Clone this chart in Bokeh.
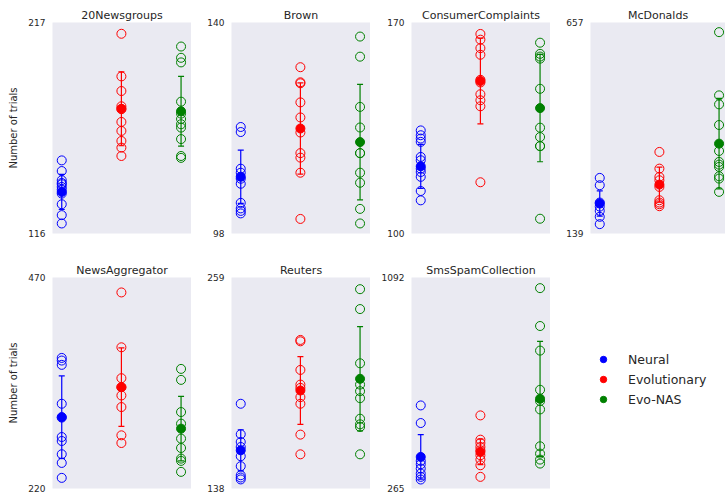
from bokeh.plotting import figure
from bokeh.layouts import column, row
from bokeh.models import (ColumnDataSource, Whisker, TeeHead, FixedTicker,
                          Legend, LegendItem, Range1d)
from bokeh.embed import file_html
from bokeh.resources import INLINE

# Datasets and their y-axis limits
datasets = ["20Newsgroups", "Brown", "ConsumerComplaints", "McDonalds",
            "NewsAggregator", "Reuters", "SmsSpamCollection"]
y_min = [116, 98, 100, 139, 220, 138, 265]
y_max = [217, 140, 170, 657, 470, 259, 1092]

methods = ["Neural", "Evolutionary", "Evo-NAS"]
colors = ["#0000ff", "#ff0000", "#008000"]

# Number of trials for each run
neural_runs = [
    [151.0, 145.9, 141.5, 140.2, 139.6, 138.3, 137.0, 135.1, 130.0, 124.8, 120.8],
    [119.2, 118.2, 110.9, 110.1, 108.9, 107.9, 104.1, 103.0, 102.5, 102.0],
    [134.2, 132.6, 131.5, 130.4, 125.4, 124.3, 121.5, 120.4, 118.8, 114.1, 111.0],
    [275.5, 257.5, 215.0, 205.0, 194.6, 180.0, 162.0],
    [374.7, 371.6, 366.5, 320.4, 304.0, 281.0, 276.3, 260.6, 250.3, 232.6],
    [186.6, 169.1, 164.7, 161.8, 156.5, 150.8, 145.6, 144.3, 143.2],
    [590.6, 521.6, 373.1, 360.0, 343.1, 323.6, 310.6, 300.2],
]
evolutionary_runs = [
    [211.6, 191.2, 184.2, 176.9, 175.5, 169.4, 165.1, 160.3, 157.1, 153.1],
    [131.1, 128.1, 127.9, 124.1, 121.1, 118.1, 114.0, 113.1, 110.1, 100.9],
    [166.2, 164.3, 161.5, 159.3, 151.0, 150.1, 146.2, 144.2, 142.2, 117.0],
    [339.2, 298.3, 277.9, 269.7, 253.4, 220.7, 215.0, 210.9, 206.0],
    [452.3, 387.3, 350.7, 340.0, 330.2, 316.5, 283.0, 273.9],
    [223.2, 222.4, 206.0, 197.6, 195.7, 190.4, 186.6, 168.9, 157.6],
    [551.5, 456.4, 443.4, 427.8, 414.8, 395.2, 378.3, 356.1, 310.6],
]
evonas_runs = [
    [205.5, 200.1, 197.9, 179.1, 173.4, 170.8, 168.3, 166.7, 161.2, 153.1, 152.2],
    [137.2, 133.2, 123.2, 119.1, 114.0, 114.0, 110.1, 108.1, 102.9, 100.0],
    [163.3, 159.6, 158.7, 158.0, 148.0, 135.1, 132.0, 129.0, 129.0, 104.9],
    [633.3, 478.1, 456.0, 405.4, 341.6, 314.7, 308.1, 302.4, 279.5, 273.8, 241.2],
    [361.7, 348.7, 310.6, 296.8, 279.1, 268.0, 255.4, 252.7, 239.7],
    [252.3, 240.9, 209.8, 197.6, 193.8, 189.8, 178.0, 174.8, 173.3, 157.6],
    [1050.3, 901.9, 805.5, 651.8, 607.5, 575.0, 430.4, 401.7, 378.3, 362.7],
]

# Mean and standard deviation per method
neural_mean = [135.9, 109.3, 122.3, 212.6, 304.6, 159.9, 388.7]
neural_std = [8.4, 5.3, 7.3, 31.0, 48.8, 11.8, 87.3]
evolutionary_mean = [175.7, 118.9, 150.6, 259.1, 340.1, 194.2, 408.2]
evolutionary_std = [17.7, 9.1, 14.2, 43.0, 46.5, 19.4, 50.0]
evonas_mean = [174.5, 116.2, 141.6, 359.6, 290.9, 200.9, 616.6]
evonas_std = [16.7, 11.5, 17.8, 111.0, 38.2, 29.9, 225.3]

runs = [neural_runs, evolutionary_runs, evonas_runs]
means = [neural_mean, evolutionary_mean, evonas_mean]
stds = [neural_std, evolutionary_std, evonas_std]

FONT = "DejaVu Sans"
TEXT = "#262626"
BG = "#eaeaf2"
FRAME_W, FRAME_H = 139, 211
X0, X1 = -0.155, 2.175
PX_PER_UNIT = FRAME_W / (X1 - X0)


def make_panel(i, left, top, bottom, frame_w=FRAME_W, ylabel=None):
    p = figure(frame_width=frame_w, frame_height=FRAME_H,
               x_range=Range1d(X0, X0 + frame_w / PX_PER_UNIT),
               y_range=Range1d(y_min[i], y_max[i]),
               x_axis_type=None, toolbar_location=None,
               output_backend="svg", title=datasets[i],
               min_border_left=left, min_border_right=0,
               min_border_top=top, min_border_bottom=bottom)
    p.background_fill_color = BG
    p.border_fill_color = "white"
    p.outline_line_color = None
    p.grid.visible = False
    p.title.text_font = FONT
    p.title.text_font_size = "11px"
    p.title.text_font_style = "normal"
    p.title.text_color = TEXT
    p.title.align = "center"
    p.title.standoff = 2

    ax = p.yaxis[0]
    ax.ticker = FixedTicker(ticks=[y_min[i], y_max[i]])
    ax.major_tick_in = 0
    ax.major_tick_out = 0
    ax.minor_tick_in = 0
    ax.minor_tick_out = 0
    ax.axis_line_color = None
    ax.major_label_standoff = 7
    ax.major_label_text_font = FONT
    ax.major_label_text_font_size = "9px"
    ax.major_label_text_color = TEXT
    if ylabel:
        ax.axis_label = ylabel
        ax.axis_label_text_font = FONT
        ax.axis_label_text_font_size = "10px"
        ax.axis_label_text_font_style = "normal"
        ax.axis_label_text_color = TEXT
        ax.axis_label_standoff = 6

    for k in range(3):
        c = colors[k]
        m = means[k][i]
        s = stds[k][i]
        err = ColumnDataSource(dict(x=[k], upper=[m + s], lower=[m - s]))
        p.add_layout(Whisker(source=err, base="x", upper="upper", lower="lower",
                             line_color=c, line_width=1.2,
                             upper_head=TeeHead(size=6, line_color=c, line_width=1.2),
                             lower_head=TeeHead(size=6, line_color=c, line_width=1.2)))
        vals = runs[k][i]
        p.scatter(x=[k] * len(vals), y=vals, size=9, fill_color=None,
                  line_color=c, line_width=1)
        p.scatter(x=[k], y=[m], size=9, fill_color=c, line_color=c)
    return p


f1 = make_panel(0, 52, 22, 22, ylabel="Number of trials")
f2 = make_panel(1, 40, 22, 22)
f3 = make_panel(2, 41, 22, 22)
f4 = make_panel(3, 40, 22, 22, frame_w=135)
f5 = make_panel(4, 52, 22, 7, ylabel="Number of trials")
f6 = make_panel(5, 40, 22, 7)
f7 = make_panel(6, 41, 22, 7)

# Legend panel: one off-screen point per method so the legend glyphs render
lg = figure(frame_width=135, frame_height=FRAME_H, x_range=Range1d(0, 1),
            y_range=Range1d(0, 1), x_axis_type=None, y_axis_type=None,
            toolbar_location=None, output_backend="svg",
            min_border_left=40, min_border_right=0,
            min_border_top=22, min_border_bottom=7)
lg.background_fill_color = None
lg.border_fill_color = "white"
lg.outline_line_color = None
lg.grid.visible = False
items = []
for k in range(3):
    r = lg.scatter(x=[-10], y=[-10], size=9, fill_color=colors[k],
                   line_color=colors[k])
    items.append(LegendItem(label=methods[k], renderers=[r]))
legend = Legend(items=items, location=(5, 81), padding=0, margin=0,
                spacing=4, glyph_width=16, glyph_height=16, label_height=16,
                label_standoff=17, border_line_color=None,
                background_fill_alpha=0, label_text_font=FONT,
                label_text_font_size="12.5px", label_text_color=TEXT)
lg.add_layout(legend)

layout = column(row(f1, f2, f3, f4), row(f5, f6, f7, lg))
open("out.html", "w").write(file_html(layout, INLINE))
